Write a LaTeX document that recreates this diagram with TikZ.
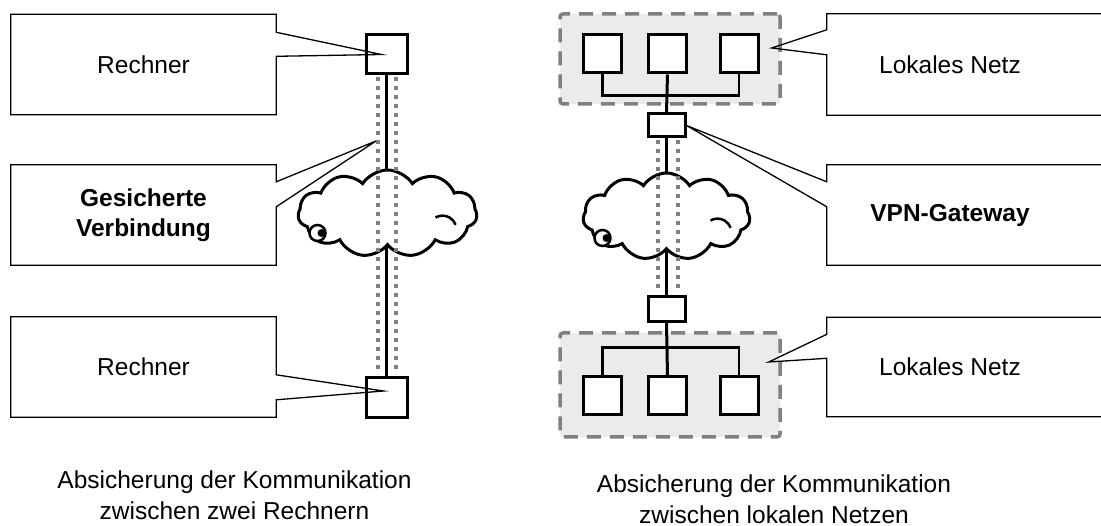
\documentclass[tikz,border=0pt]{standalone}
\usepackage{fontspec}
\setmainfont{Liberation Sans}
\usetikzlibrary{positioning, calc, shapes.symbols}
\definecolor{tunnelgray}{gray}{0.5}
\definecolor{langray}{gray}{0.92}
\definecolor{framegray}{gray}{0.5}

\begin{document}
\begin{tikzpicture}[
    x=1pt, y=-1pt,
    font=\fontsize{24.5}{30.5}\selectfont,
    callbox/.style={minimum width=265pt, minimum height=100pt, inner sep=0pt, align=center},
    boldtxt/.style={font=\fontsize{24.5}{30}\selectfont\bfseries},
    callline/.style={line width=1.3pt, line join=miter},
    host/.style={draw, line width=3pt, fill=white, minimum width=38pt, minimum height=38pt, inner sep=0pt},
    gateway/.style={draw, line width=3pt, fill=white, minimum width=37pt, minimum height=23pt, inner sep=0pt},
    lan/.style={draw=framegray, fill=langray, line width=3.5pt, dash pattern=on 14pt off 9pt, rounded corners=3pt, minimum width=220pt},
    net/.style={cloud, cloud puffs=11, cloud puff arc=115, aspect=2, draw, line width=3pt, fill=white, inner sep=0pt},
    curl/.style={line width=2.5pt},
    wire/.style={line width=2.2pt},
    tunnel/.style={draw=tunnelgray, line width=4pt, dash pattern=on 4pt off 5pt}
]
\useasboundingbox (0,0) rectangle (1101,526);

% Verbindung zwischen zwei Rechnern
\node[host, minimum width=41pt, minimum height=39pt] (pcA) at (386.5,54.5) {};
\node[host, minimum width=41pt, minimum height=40pt] (pcB) at (386.5,398) {};
\draw[wire] (pcA.south) -- (pcB.north);
\node[net, minimum width=179pt, minimum height=87pt] (inetA) at (387.5,213.5) {};
\draw[curl, fill=white] ([shift={(-70,19.5)}]inetA.center) circle (8pt);
\fill ([shift={(-66,19.5)}]inetA.center) circle (4pt);
\draw[curl] ([shift={(48,4)}]inetA.center) arc (120:20:14pt);
\draw[tunnel, shorten <=2pt, shorten >=2pt] ([xshift=-9pt]pcA.south) -- ([xshift=-9pt]pcB.north);
\draw[tunnel, shorten <=2pt, shorten >=2pt] ([xshift=9pt]pcA.south) -- ([xshift=9pt]pcB.north);
\coordinate (tunA) at (376,141);

\node[callbox] (txtRechA) at (143.5,64.5) {Rechner};
\node[callbox, boldtxt] (txtVerb) at (143.5,215) {Gesicherte\\Verbindung};
\node[callbox] (txtRechB) at (143.5,367) {Rechner};
\draw[callline] (txtRechA.north west) -- (txtRechA.north east) -- ++(0,18) -- ([xshift=-5pt]pcA.center) -- ($(txtRechA.north east)+(0,42)$) -- (txtRechA.south east) -- (txtRechA.south west) -- cycle;
\draw[callline] (txtVerb.north west) -- (txtVerb.north east) -- ++(0,17) -- (tunA) -- ($(txtVerb.north east)+(0,42)$) -- (txtVerb.south east) -- (txtVerb.south west) -- cycle;
\draw[callline] (txtRechB.north west) -- (txtRechB.north east) -- ++(0,58) -- ([shift={(-3,-7)}]pcB.center) -- ($(txtRechB.north east)+(0,83)$) -- (txtRechB.south east) -- (txtRechB.south west) -- cycle;

% Verbindung zwischen lokalen Netzen
\node[lan, minimum height=90pt] (lanA) at (670,59) {};
\node[host] (hA1) at (602.5,54) {};
\node[host] (hA2) at (667.5,54) {};
\node[host] (hA3) at (739,54) {};
\node[gateway] (gwA) at (666.5,125.5) {};
\draw[wire] (hA1.south) -- ++(0,21) -| (hA3.south);
\draw[line width=3pt] (hA2.south) -- (gwA.north);

\node[lan, minimum height=104pt] (lanB) at (670,385) {};
\node[host] (hB1) at (602.5,396) {};
\node[host] (hB2) at (667.5,396) {};
\node[host] (hB3) at (739,396) {};
\node[gateway, minimum height=25pt] (gwB) at (666.5,309) {};
\draw[wire] (hB1.north) -- ++(0,-28) -| (hB3.north);
\draw[line width=3pt] (gwB.south) -- (hB2.north);

\draw[wire] (gwA.south) -- (gwB.north);
\node[net, minimum width=167pt, minimum height=87pt] (inetB) at (666.5,216.5) {};
\draw[curl, fill=white] ([shift={(-64,21.5)}]inetB.center) circle (8pt);
\fill ([shift={(-60,21.5)}]inetB.center) circle (4pt);
\draw[curl] ([shift={(44,4)}]inetB.center) arc (120:20:14pt);
\draw[tunnel, shorten <=2pt, shorten >=2pt] ([xshift=-9pt]gwA.south) -- ([xshift=-9pt]gwB.north);
\draw[tunnel, shorten <=2pt, shorten >=2pt] ([xshift=11pt]gwA.south) -- ([xshift=11pt]gwB.north);

\node[callbox, minimum width=246pt, minimum height=101pt] (txtLanA) at (950,64.5) {Lokales Netz};
\node[callbox, minimum width=246pt, boldtxt] (txtVpn) at (950,215) {VPN-Gateway};
\node[callbox, minimum width=246pt, minimum height=99pt] (txtLanB) at (950,367) {Lokales Netz};
\draw[callline] ($(txtLanA.north west)+(300,0)$) -- (txtLanA.north west) -- ++(0,16) -- ([shift={(-10,-11)}]lanA.east) -- ($(txtLanA.north west)+(0,41)$) -- (txtLanA.south west) -- ++(300,0);
\draw[callline] ($(txtVpn.north west)+(300,0)$) -- (txtVpn.north west) -- ++(0,17) -- (gwA.east) -- ($(txtVpn.north west)+(0,42)$) -- (txtVpn.south west) -- ++(300,0);
\draw[callline] ($(txtLanB.north west)+(300,0)$) -- (txtLanB.north west) -- ++(0,17) -- ([shift={(-13,-23)}]lanB.east) -- ($(txtLanB.north west)+(0,41)$) -- (txtLanB.south west) -- ++(300,0);

\node[align=center] (capA) at (234.5,495) {Absicherung der Kommunikation\\zwischen zwei Rechnern};
\node[align=center] (capB) at (774,499) {Absicherung der Kommunikation\\zwischen lokalen Netzen};
\end{tikzpicture}
\end{document}
